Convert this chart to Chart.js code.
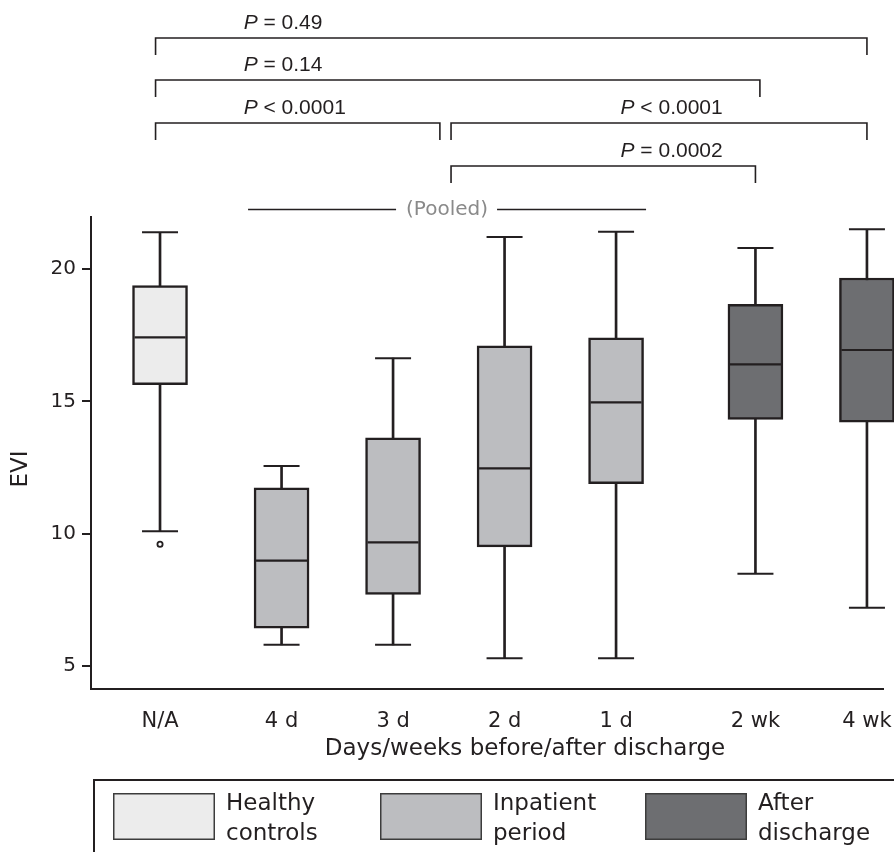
<!DOCTYPE html>
<html>
<head>
<meta charset="utf-8">
<title>EVI before/after discharge</title>
<script src="https://cdn.jsdelivr.net/npm/chart.js@4.4.1/dist/chart.umd.min.js"></script>
<style>
  html, body { margin: 0; padding: 0; background: #fff; }
  body { width: 894px; height: 852px; overflow: hidden; }
  canvas { display: block; }
</style>
</head>
<body>
<canvas id="eviChart" width="894" height="852"></canvas>
<script>
// データ
const categories = ['N/A', '4 d', '3 d', '2 d', '1 d', '2 wk', '4 wk'];
const slots = [0, 1.09, 2.09, 3.09, 4.09, 5.34, 6.34]; // x位置（グループ間に隙間あり）
const groupOf = [0, 1, 1, 1, 1, 2, 2];
const groupNames = ['Healthy controls', 'Inpatient period', 'After discharge'];

const whiskerLow  = [10.09, 5.80, 5.80, 5.29, 5.29, 8.49, 7.20];
const q1          = [15.63, 6.43, 7.70, 9.50, 11.89, 14.32, 14.21];
const median      = [17.42, 8.98, 9.67, 12.47, 14.96, 16.40, 16.94];
const q3          = [19.37, 11.73, 13.62, 17.10, 17.40, 18.67, 19.66];
const whiskerHigh = [21.39, 12.56, 16.63, 21.21, 21.41, 20.79, 21.50];
const outlierSlot = [0];
const outlierValue = [9.60];

const yTicks = [5, 10, 15, 20];

// 比較ブラケット（x軸の単位）
const pTexts = ['= 0.49', '= 0.14', '< 0.0001', '< 0.0001', '= 0.0002'];
const pFrom  = [-0.04, -0.04, -0.04, 2.61, 2.61];
const pTo    = [6.34, 5.38, 2.51, 6.34, 5.34];
const pooledLabel = '(Pooled)';

const yTitle = 'EVI';
const xTitle = 'Days/weeks before/after discharge';

// スタイル
const INK = '#231f20';
const groupColors = ['#ececec', '#bcbdc0', '#6d6e71'];
const bracketRowY = [38, 80, 123, 123, 166];
const bracketTextX = [0.75, 0.75, 0.75, 4.13, 4.13];

// 箱（グループ毎のデータセット）
const boxSet = g => ({
    type: 'bar',
    label: groupNames[g],
    legendBox: true,
    data: categories.map((c, i) => groupOf[i] === g ? { x: slots[i], y: [q1[i], q3[i]] } : null).filter(Boolean),
    backgroundColor: groupColors[g],
    borderColor: INK,
    borderWidth: 2.5,
    borderSkipped: false,
    barThickness: 55,
    grouped: false,
    clip: false,
    order: 2
});

const datasets = [
    {   // ひげの縦線
        type: 'bar',
        data: slots.map((s, i) => ({ x: s, y: [whiskerLow[i], whiskerHigh[i]] })),
        backgroundColor: INK,
        borderWidth: 0,
        barThickness: 2,
        grouped: false,
        clip: false,
        order: 3
    },
    boxSet(0), boxSet(1), boxSet(2),
    {   // ひげの端
        type: 'scatter',
        data: slots.map((s, i) => ({ x: s, y: whiskerLow[i] }))
            .concat(slots.map((s, i) => ({ x: s, y: whiskerHigh[i] }))),
        pointStyle: 'line',
        pointRadius: 18,
        borderColor: INK,
        borderWidth: 2,
        clip: false,
        order: 1
    },
    {   // 中央値
        type: 'scatter',
        data: slots.map((s, i) => ({ x: s, y: median[i] })),
        pointStyle: 'line',
        pointRadius: 25.5,
        borderColor: INK,
        borderWidth: 2.2,
        clip: false,
        order: 1
    },
    {   // 外れ値
        type: 'scatter',
        data: outlierSlot.map((s, i) => ({ x: slots[s], y: outlierValue[i] })),
        pointStyle: 'circle',
        pointRadius: 2.6,
        backgroundColor: '#fff',
        borderColor: INK,
        borderWidth: 1.8,
        clip: false,
        order: 1
    }
];

// 注釈（ブラケット、Pooled、軸タイトル、凡例）
const annotations = {
    id: 'annotations',
    afterDraw(chart) {
        const { ctx } = chart;
        const xs = chart.scales.x;
        ctx.save();
        ctx.fillStyle = INK;
        ctx.strokeStyle = INK;
        ctx.textBaseline = 'alphabetic';

        // ブラケット
        ctx.lineWidth = 1.6;
        pTexts.forEach((t, i) => {
            const x1 = xs.getPixelForValue(pFrom[i]);
            const x2 = xs.getPixelForValue(pTo[i]);
            const y = bracketRowY[i];
            ctx.beginPath();
            ctx.moveTo(x1, y + 17);
            ctx.lineTo(x1, y);
            ctx.lineTo(x2, y);
            ctx.lineTo(x2, y + 17);
            ctx.stroke();

            let tx = xs.getPixelForValue(bracketTextX[i]);
            ctx.textAlign = 'left';
            ctx.font = 'italic 21px "Liberation Sans"';
            ctx.fillText('P', tx, y - 9.5);
            tx += ctx.measureText('P ').width;
            ctx.font = '21px "Liberation Sans"';
            ctx.fillText(t, tx, y - 9.5);
        });

        // Pooled
        const pl = xs.getPixelForValue(slots[1]) - 33.5;
        const pr = xs.getPixelForValue(slots[4]) + 30;
        const py = 209.5;
        const pc = (pl + pr) / 2;
        ctx.font = '20px "DejaVu Sans"';
        const pw = ctx.measureText(pooledLabel).width;
        ctx.lineWidth = 1.5;
        ctx.beginPath();
        ctx.moveTo(pl, py); ctx.lineTo(pc - pw / 2 - 10, py);
        ctx.moveTo(pc + pw / 2 + 9, py); ctx.lineTo(pr, py);
        ctx.stroke();
        ctx.fillStyle = '#8a8a8a';
        ctx.textAlign = 'center';
        ctx.textBaseline = 'middle';
        ctx.fillText(pooledLabel, pc, py);

        // 軸タイトル
        ctx.fillStyle = INK;
        ctx.font = '23px "DejaVu Sans"';
        ctx.textBaseline = 'alphabetic';
        ctx.fillText(xTitle, 525, 755);
        ctx.save();
        ctx.translate(21, 469);
        ctx.rotate(-Math.PI / 2);
        ctx.textBaseline = 'middle';
        ctx.fillText(yTitle, 0, 0);
        ctx.restore();

        // 凡例
        ctx.lineWidth = 2;
        ctx.beginPath();
        ctx.moveTo(94, 852); ctx.lineTo(94, 780); ctx.lineTo(894, 780);
        ctx.stroke();
        const swatchX = [113, 380, 645];
        chart.data.datasets.filter(d => d.legendBox).forEach((d, i) => {
            const sx = swatchX[i];
            ctx.fillStyle = d.backgroundColor;
            ctx.fillRect(sx, 793, 102, 47);
            ctx.strokeStyle = '#3c3c3c';
            ctx.lineWidth = 1.5;
            ctx.strokeRect(sx + 0.75, 793.75, 100.5, 45.5);
            ctx.fillStyle = INK;
            ctx.textAlign = 'left';
            ctx.font = '23px "DejaVu Sans"';
            const words = d.label.split(' ');
            ctx.fillText(words[0], sx + 113, 810);
            ctx.fillText(words[1], sx + 113, 840);
        });
        ctx.restore();
    }
};

new Chart(document.getElementById('eviChart'), {
    type: 'bar',
    data: { datasets: datasets },
    options: {
        responsive: false,
        animation: false,
        events: [],
        layout: {
            autoPadding: false,
            padding: { top: 217, left: 0, right: 11, bottom: 123 }
        },
        plugins: {
            legend: { display: false },
            tooltip: { enabled: false }
        },
        scales: {
            x: {
                type: 'linear',
                offset: false,
                min: -0.619,
                max: 6.484,
                afterBuildTicks: axis => { axis.ticks = slots.map(v => ({ value: v })); },
                afterFit: scale => {
                    scale.height = 40;
                    scale.paddingLeft = 0;
                    scale.paddingRight = 0;
                },
                ticks: {
                    callback: (v, i) => categories[i],
                    autoSkip: false,
                    maxRotation: 0,
                    minRotation: 0,
                    padding: 12,
                    color: INK,
                    font: { family: 'DejaVu Sans', size: 21 }
                },
                grid: { display: false },
                border: { display: true, color: INK, width: 2 }
            },
            y: {
                min: 4.131,
                max: 21.965,
                afterBuildTicks: axis => { axis.ticks = yTicks.map(v => ({ value: v })); },
                afterFit: scale => {
                    scale.width = 91;
                    scale.paddingTop = 0;
                    scale.paddingBottom = 0;
                },
                ticks: {
                    padding: 6,
                    color: INK,
                    font: { family: 'DejaVu Sans', size: 20 }
                },
                grid: {
                    display: true,
                    drawOnChartArea: false,
                    drawTicks: true,
                    tickLength: 9,
                    color: INK,
                    lineWidth: 2
                },
                border: { display: true, color: INK, width: 2 }
            }
        }
    },
    plugins: [annotations]
});
</script>
</body>
</html>
